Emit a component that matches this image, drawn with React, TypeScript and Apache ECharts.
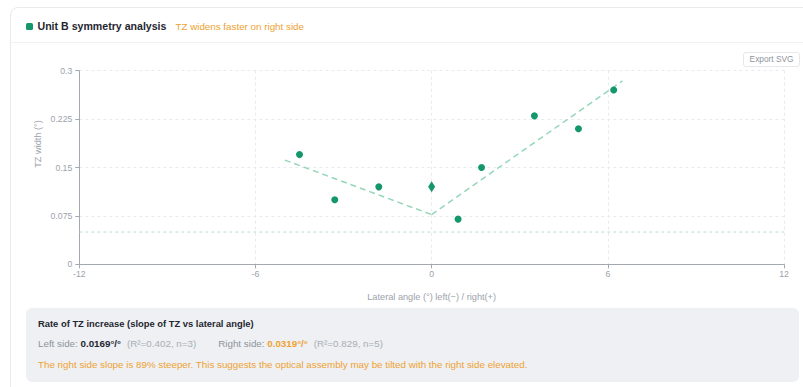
import React, { useEffect, useRef } from "react";
import * as echarts from "echarts";

// Measured TZ widths by lateral viewing angle
const leftAngles = [-4.5, -3.3, -1.8];
const leftWidths = [0.17, 0.1, 0.12];
const centerAngles = [0];
const centerWidths = [0.12];
const rightAngles = [0.9, 1.7, 3.5, 5.0, 6.2];
const rightWidths = [0.07, 0.15, 0.23, 0.21, 0.27];

// Linear fits for each side (slope in °/°, shared intercept at 0°)
const leftSlope = 0.0169;
const rightSlope = 0.0319;
const fitIntercept = 0.077;
const leftFitRange = [-5.0, 0];
const rightFitRange = [0, 6.5];
const leftR2 = 0.402;
const rightR2 = 0.829;

// Reference width line
const thresholdWidth = 0.05;

// Axis ticks
const xTicks = [-12, -6, 0, 6, 12];
const yTicks = [0, 0.075, 0.15, 0.225, 0.3];

const GREEN = "#14976b";
const FIT = "#96d6b8";
const ORANGE = "#eea232";
const FONT = "'Liberation Sans', Arial, Helvetica, sans-serif";

function ChartArea() {
  const ref = useRef<HTMLDivElement>(null);
  useEffect(() => {
    if (!ref.current) return;
    const chart = echarts.init(ref.current, undefined, { renderer: "svg" });
    const xStep = xTicks[1] - xTicks[0];
    const yStep = yTicks[1] - yTicks[0];
    const axisGray = "#a4a9b1";
    const labelGray = "#9ca2ab";
    const gridLine = { show: true, lineStyle: { color: "#e8eaee", type: [3, 3] as number[], width: 1 } };
    chart.setOption({
      animation: false,
      textStyle: { fontFamily: FONT },
      grid: { left: 79.3, right: 19, top: 70.7, bottom: 387 - 264.3, containLabel: false },
      xAxis: {
        type: "value",
        min: xTicks[0],
        max: xTicks[xTicks.length - 1],
        interval: xStep,
        name: "Lateral angle (°) left(−) / right(+)",
        nameLocation: "middle",
        nameGap: 28.5,
        nameTextStyle: { color: labelGray, fontSize: 9.2, fontFamily: FONT },
        axisLine: { show: true, onZero: false, lineStyle: { color: axisGray, width: 1 } },
        axisTick: { show: true, length: 4, lineStyle: { color: axisGray } },
        axisLabel: { color: labelGray, fontSize: 8.7, margin: 5, fontFamily: FONT },
        splitLine: gridLine,
      },
      yAxis: {
        type: "value",
        min: yTicks[0],
        max: yTicks[yTicks.length - 1],
        interval: yStep,
        axisLine: { show: true, onZero: false, lineStyle: { color: axisGray, width: 1 } },
        axisTick: { show: true, length: 4, lineStyle: { color: axisGray } },
        axisLabel: {
          color: labelGray,
          fontSize: 8.7,
          margin: 7,
          fontFamily: FONT,
          formatter: (v: number) => String(+v.toFixed(3)),
        },
        splitLine: gridLine,
      },
      graphic: [
        {
          type: "text",
          x: 38,
          y: 144,
          rotation: Math.PI / 2,
          style: {
            text: "TZ width (°)",
            fill: labelGray,
            font: `9.2px ${FONT}`,
            align: "center",
            verticalAlign: "middle",
          },
        },
      ],
      series: [
        {
          type: "line",
          data: [
            [xTicks[0], thresholdWidth],
            [xTicks[xTicks.length - 1], thresholdWidth],
          ],
          symbol: "none",
          silent: true,
          lineStyle: { color: "#b2e0cb", width: 1, type: [3, 3] },
          z: 1,
        },
        {
          type: "line",
          data: leftFitRange.map((x) => [x, fitIntercept - leftSlope * x]),
          symbol: "none",
          lineStyle: { color: FIT, width: 1.5, type: [6, 4] },
          z: 2,
        },
        {
          type: "line",
          data: rightFitRange.map((x) => [x, fitIntercept + rightSlope * x]),
          symbol: "none",
          lineStyle: { color: FIT, width: 1.5, type: [6, 4] },
          z: 2,
        },
        {
          type: "scatter",
          data: [
            ...leftAngles.map((x, i) => [x, leftWidths[i]]),
            ...rightAngles.map((x, i) => [x, rightWidths[i]]),
          ],
          symbol: "circle",
          symbolSize: 7,
          itemStyle: { color: GREEN, opacity: 1 },
          z: 3,
        },
        {
          type: "scatter",
          data: centerAngles.map((x, i) => [x, centerWidths[i]]),
          symbol: "diamond",
          symbolSize: [7, 11],
          itemStyle: { color: GREEN, opacity: 1 },
          z: 3,
        },
      ],
    });
    return () => chart.dispose();
  }, []);
  return (
    <div
      ref={ref}
      style={{ position: "absolute", left: 0, top: 0, width: 803, height: 387, zIndex: 1 }}
    />
  );
}

export default function App() {
  const ratio = Math.round((rightSlope / leftSlope - 1) * 100);
  const muted = "#8e949c";
  const faint = "#a9aeb5";
  const dark = "#1f2630";
  return (
    <div
      style={{
        position: "fixed",
        left: 0,
        top: 0,
        width: 803,
        height: 387,
        overflow: "hidden",
        background: "#ffffff",
        fontFamily: FONT,
      }}
    >
      {/* card */}
      <div
        style={{
          position: "absolute",
          left: 10,
          top: 7,
          width: 830,
          height: 420,
          border: "1px solid #e8eaee",
          borderRadius: 8,
          background: "#ffffff",
          boxSizing: "border-box",
        }}
      />
      {/* header */}
      <div
        style={{
          position: "absolute",
          left: 11,
          top: 42,
          width: 820,
          height: 1,
          background: "#f0f1f4",
        }}
      />
      <div
        style={{
          position: "absolute",
          left: 26,
          top: 22.5,
          width: 7,
          height: 7,
          borderRadius: 1.5,
          background: GREEN,
          zIndex: 2,
        }}
      />
      <div
        style={{
          position: "absolute",
          left: 37.5,
          top: 19,
          height: 14,
          lineHeight: "14px",
          fontSize: 10.6,
          fontWeight: 700,
          color: dark,
          whiteSpace: "nowrap",
          zIndex: 2,
        }}
      >
        Unit B symmetry analysis
        <span style={{ marginLeft: 9, fontSize: 9.8, fontWeight: 400, color: ORANGE }}>
          TZ widens faster on right side
        </span>
      </div>

      <ChartArea />

      {/* export button */}
      <div
        style={{
          position: "absolute",
          left: 743,
          top: 52,
          width: 57,
          height: 15,
          border: "1px solid #e6e8ec",
          borderRadius: 3,
          background: "#ffffff",
          color: "#8e949c",
          fontSize: 8.3,
          lineHeight: "13px",
          textAlign: "center",
          boxSizing: "border-box",
          zIndex: 2,
        }}
      >
        Export SVG
      </div>

      {/* slope summary */}
      <div
        style={{
          position: "absolute",
          left: 26,
          top: 308,
          width: 773,
          height: 74,
          background: "#eef0f3",
          borderRadius: 6,
          zIndex: 2,
        }}
      >
        <div
          style={{
            position: "absolute",
            left: 12,
            top: 10,
            fontSize: 9.4,
            lineHeight: "12px",
            fontWeight: 700,
            color: dark,
            whiteSpace: "nowrap",
          }}
        >
          Rate of TZ increase (slope of TZ vs lateral angle)
        </div>
        <div
          style={{
            position: "absolute",
            left: 12,
            top: 30,
            fontSize: 9.8,
            lineHeight: "12px",
            color: muted,
            whiteSpace: "nowrap",
          }}
        >
          Left side: <b style={{ color: dark }}>{leftSlope.toFixed(4)}°/°</b>
          <span style={{ color: faint, marginLeft: 6 }}>
            (R²={leftR2.toFixed(3)}, n={leftAngles.length})
          </span>
          <span style={{ marginLeft: 22 }}>Right side: </span>
          <b style={{ color: ORANGE }}>{rightSlope.toFixed(4)}°/°</b>
          <span style={{ color: faint, marginLeft: 6 }}>
            (R²={rightR2.toFixed(3)}, n={rightAngles.length})
          </span>
        </div>
        <div
          style={{
            position: "absolute",
            left: 12,
            top: 51,
            fontSize: 9.8,
            lineHeight: "12px",
            color: ORANGE,
            whiteSpace: "nowrap",
          }}
        >
          The right side slope is {ratio}% steeper. This suggests the optical assembly may be tilted
          with the right side elevated.
        </div>
      </div>
    </div>
  );
}
